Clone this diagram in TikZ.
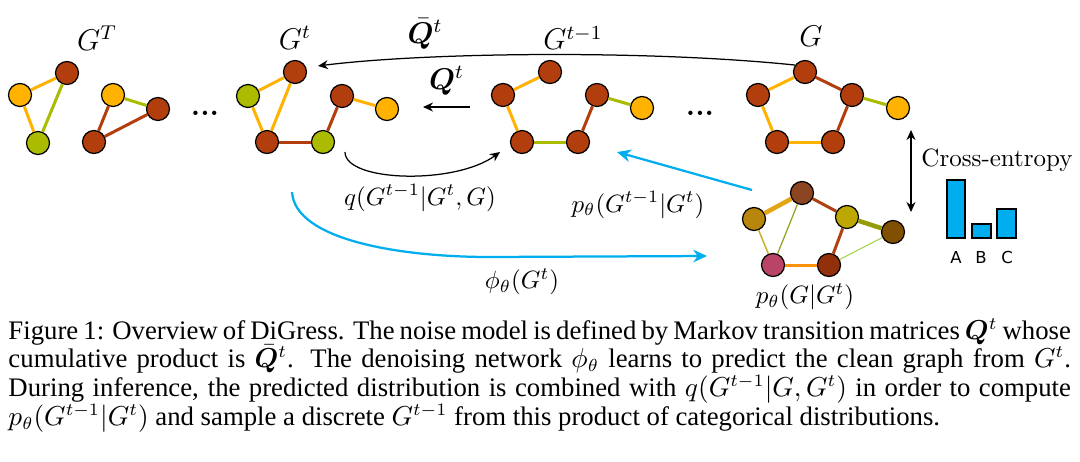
\documentclass[tikz,border=0pt]{standalone}
\usepackage{fontspec}
\usepackage{bm}
\newfontfamily\capfont{Liberation Serif}
\newfontfamily\barfont{DejaVu Sans}
\usetikzlibrary{arrows.meta}

\definecolor{corange}{RGB}{255,178,0}
\definecolor{cbrown}{RGB}{178,62,14}
\definecolor{cgreen}{RGB}{170,187,0}
\definecolor{cblue}{RGB}{0,174,239}
\definecolor{pochre}{RGB}{184,134,11}
\definecolor{pbrown}{RGB}{139,69,34}
\definecolor{polive}{RGB}{188,168,0}
\definecolor{pdark}{RGB}{128,80,0}
\definecolor{ppink}{RGB}{185,68,102}
\definecolor{pred}{RGB}{145,48,10}

\tikzset{
  v/.style={circle,draw,line width=0.5pt,minimum size=9.2pt,inner sep=0pt},
  vo/.style={v,fill=corange},
  vb/.style={v,fill=cbrown},
  vg/.style={v,fill=cgreen},
  eo/.style={draw=corange,line width=1.2pt},
  eb/.style={draw=cbrown,line width=1.2pt},
  eg/.style={draw=cgreen,line width=1.2pt},
  lab/.style={font=\large},
  arr/.style={-{Stealth[length=4pt,width=3.6pt]},line width=0.5pt},
  barr/.style={-{Stealth[length=5.5pt,width=5pt]},line width=0.9pt,draw=cblue},
  bar/.style={draw,line width=0.5pt,fill=cblue},
  capline/.style={anchor=base west,inner sep=0pt,font=\capfont\fontsize{10.7}{11.4}\selectfont}
}

\begin{document}
\begin{tikzpicture}[x=0.4pt,y=-0.4pt]
  \useasboundingbox (0,0) rectangle (1080,461);

  % G^T
  \node[lab](lT) at (97,38) {$G^T$};
  \node[vo](ta1) at (20,95) {};
  \node[vb](ta2) at (67,73) {};
  \node[vg](ta3) at (38,143) {};
  \draw[eo] (ta1) -- (ta2);
  \draw[eo] (ta1) -- (ta3);
  \draw[eg] (ta2) -- (ta3);
  \node[vo](tb1) at (113,95) {};
  \node[vb](tb2) at (158,109) {};
  \node[vb](tb3) at (94,142) {};
  \draw[eg] (tb1) -- (tb2);
  \draw[eb] (tb1) -- (tb3);
  \draw[eb] (tb3) -- (tb2);
  \node[font=\large\bfseries](d1) at (205,113) {...};

  % G^t
  \node[lab](lt) at (295,38) {$G^t$};
  \node[vb](s1) at (295,72) {};
  \node[vg](s2) at (248,96) {};
  \node[vb](s3) at (267,142) {};
  \node[vg](s4) at (323,142) {};
  \node[vb](s5) at (342,96) {};
  \node[vo](s6) at (387,109) {};
  \draw[eo] (s2) -- (s1);
  \draw[eo] (s2) -- (s3);
  \draw[eo] (s1) -- (s3);
  \draw[eb] (s3) -- (s4);
  \draw[eb] (s4) -- (s5);
  \draw[eo] (s5) -- (s6);

  % G^{t-1}
  \node[lab](ltm) at (573,38) {$G^{t-1}$};
  \node[vb](r1) at (550,72) {};
  \node[vb](r2) at (503,95) {};
  \node[vb](r3) at (522,142) {};
  \node[vb](r4) at (578,142) {};
  \node[vb](r5) at (597,95) {};
  \node[vo](r6) at (642,108) {};
  \draw[eo] (r1) -- (r2);
  \draw[eo] (r2) -- (r3);
  \draw[eg] (r3) -- (r4);
  \draw[eb] (r4) -- (r5);
  \draw[eg] (r5) -- (r6);
  \node[font=\large\bfseries](d2) at (700,113) {...};

  % G
  \node[lab](lG) at (811,36) {$G$};
  \node[vb](g1) at (805,72) {};
  \node[vb](g2) at (758,95) {};
  \node[vb](g3) at (777,142) {};
  \node[vb](g4) at (833,142) {};
  \node[vb](g5) at (852,95) {};
  \node[vo](g6) at (898,108) {};
  \draw[eo] (g1) -- (g2);
  \draw[eo] (g2) -- (g3);
  \draw[eo] (g3) -- (g4);
  \draw[eb] (g4) -- (g5);
  \draw[eb] (g5) -- (g1);
  \draw[eg] (g5) -- (g6);

  % predicted graph
  \node[v,fill=pochre](p1) at (754,219) {};
  \node[v,fill=pbrown](p2) at (802,193) {};
  \node[v,fill=polive](p3) at (847,217) {};
  \node[v,fill=pdark](p4) at (893,232) {};
  \node[v,fill=ppink](p5) at (773,265) {};
  \node[v,fill=pred](p6) at (829,265) {};
  \draw[draw={rgb,255:red,228;green,165;blue,20},line width=1.8pt] (p1) -- (p2);
  \draw[draw={rgb,255:red,205;green,175;blue,40},line width=0.6pt] (p1) -- (p5);
  \draw[draw={rgb,255:red,150;green,160;blue,30},line width=0.5pt] (p2) -- (p5);
  \draw[draw={rgb,255:red,175;green,65;blue,20},line width=1.2pt] (p2) -- (p3);
  \draw[draw={rgb,255:red,150;green,155;blue,10},line width=1.8pt] (p3) -- (p4);
  \draw[draw={rgb,255:red,175;green,65;blue,20},line width=1.2pt] (p3) -- (p6);
  \draw[draw={rgb,255:red,255;green,145;blue,10},line width=1.2pt] (p5) -- (p6);
  \draw[draw={rgb,255:red,160;green,210;blue,70},line width=0.4pt] (p6) -- (p4);
  \node(pG) at (805,297) {$p_\theta(G|G^t)$};

  % transitions
  \draw[arr] (g1.145) .. controls (650,50) and (430,52) .. ([xshift=5pt]s1.30);
  \node[lab](Qb) at (425,34) {$\bar{\bm{Q}}^t$};
  \coordinate(qa) at (470,107);
  \coordinate(qb) at (423,107);
  \draw[arr] (qa) -- (qb) node[midway,above=1pt,font=\large](Q){$\bm{Q}^t$};
  \coordinate(qs) at (345,152);
  \coordinate(qe) at (500,152);
  \draw[arr] (qs) .. controls (345,182) and (455,185) .. (qe);
  \node(q) at (420,198) {$q(G^{t-1}|G^t,G)$};

  % network
  \coordinate(ps) at (752,190);
  \coordinate(pe) at (617,152);
  \draw[barr] (ps) -- (pe);
  \node(p) at (638,205) {$p_\theta(G^{t-1}|G^t)$};
  \coordinate(fs) at (292,192);
  \coordinate(fe) at (707,256);
  \draw[barr] (fs) .. controls (295,240) and (400,257) .. (490,257) -- (fe);
  \node(phi) at (522,282) {$\phi_\theta(G^t)$};

  % cross-entropy
  \coordinate(ca) at (911,130);
  \coordinate(cb) at (911,212);
  \draw[arr,{Stealth[length=4pt,width=3.6pt]}-{Stealth[length=4pt,width=3.6pt]}] (ca) -- (cb);
  \node(ce) at (997,160) {Cross-entropy};
  \draw[bar] (947,180) rectangle (965,238);
  \draw[bar] (972,224) rectangle (991,238);
  \draw[bar] (997,209) rectangle (1016,238);
  \node[font=\barfont\fontsize{6.6}{8}\selectfont](A) at (956,257) {A};
  \node[font=\barfont\fontsize{6.6}{8}\selectfont](B) at (981,257) {B};
  \node[font=\barfont\fontsize{6.6}{8}\selectfont](C) at (1007,257) {C};

  % caption
  \node[capline](cap1) at (8,339) {\makebox[425pt][s]{Figure 1: Overview of DiGress. The noise model is defined by Markov transition matrices $\bm{Q}^t$ whose}};
  \node[capline](cap2) at (8,367.7) {\makebox[425pt][s]{cumulative product is $\bar{\bm{Q}}^t$. The denoising network $\phi_\theta$ learns to predict the clean graph from $G^t$.}};
  \node[capline](cap3) at (8,396.3) {\makebox[425pt][s]{During inference, the predicted distribution is combined with $q(G^{t-1}|G,G^t)$ in order to compute}};
  \node[capline](cap4) at (8,425) {$p_\theta(G^{t-1}|G^t)$ and sample a discrete $G^{t-1}$ from this product of categorical distributions.};
\end{tikzpicture}
\end{document}
